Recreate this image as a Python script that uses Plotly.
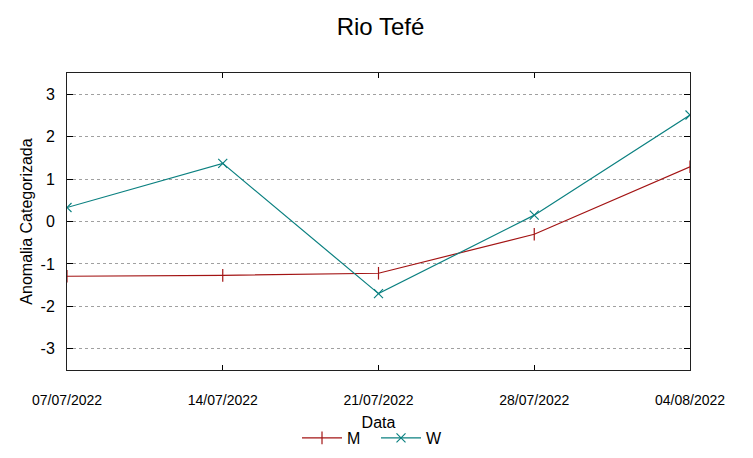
import plotly.graph_objects as go

dates = ["2022-07-07", "2022-07-14", "2022-07-21", "2022-07-28", "2022-08-04"]
tick_labels = ["07/07/2022", "14/07/2022", "21/07/2022", "28/07/2022", "04/08/2022"]
m_values = [-1.29, -1.27, -1.22, -0.30, 1.29]
w_values = [0.33, 1.37, -1.70, 0.15, 2.51]
y_ticks = [-3, -2, -1, 0, 1, 2, 3]
y_tick_labels = ["-3", "-2", "-1", "0", "1", "2", "3"]

fig = go.Figure()
fig.add_trace(go.Scatter(
    x=dates, y=m_values, name="M", mode="lines+markers",
    line=dict(color="#a31414", width=1.2),
    marker=dict(symbol="line-ns-open", size=9, color="#a31414", line=dict(width=1.2, color="#a31414")),
))
fig.add_trace(go.Scatter(
    x=dates, y=w_values, name="W", mode="lines+markers",
    line=dict(color="#0b8080", width=1.2),
    marker=dict(symbol="x-thin-open", size=9, color="#0b8080", line=dict(width=1.2, color="#0b8080")),
))

# the page body adds an 8px offset, so the figure is sized/offset to compensate
fig.update_layout(
    width=745, height=450,
    paper_bgcolor="white", plot_bgcolor="white",
    margin=dict(l=59, r=63, t=65, b=88, autoexpand=False),
    font=dict(family="Liberation Sans, Arial, sans-serif", color="black"),
    title=dict(text="Rio Tefé", x=0.5, xanchor="center", y=0.958, yanchor="middle",
               font=dict(size=24, color="black"), automargin=False),
    showlegend=True,
    legend=dict(orientation="h", x=0.496, xanchor="center", y=-0.229, yanchor="middle",
                font=dict(size=16), bgcolor="rgba(0,0,0,0)", itemwidth=40,
                entrywidth=24),
)
fig.update_xaxes(
    type="date",
    range=[dates[0], dates[-1]],
    tickvals=dates, ticktext=tick_labels,
    tickfont=dict(size=14),
    ticks="inside", ticklen=5, tickcolor="black",
    ticklabelstandoff=17,
    showline=True, linecolor="#202020", linewidth=1, mirror="ticks",
    showgrid=False, zeroline=False, automargin=False,
    title=dict(text="Data", font=dict(size=16), standoff=10),
)
fig.update_yaxes(
    range=[-3.5, 3.5],
    tickvals=y_ticks, ticktext=y_tick_labels,
    tickfont=dict(size=16),
    ticks="inside", ticklen=6, tickcolor="black",
    ticklabelstandoff=8,
    showline=True, linecolor="#202020", linewidth=1, mirror="ticks",
    showgrid=True, gridcolor="#a0a0a0", griddash="dot", gridwidth=1,
    zeroline=False, automargin=False,
    title=dict(text="Anomalia Categorizada", font=dict(size=16), standoff=3),
)

fig.write_html("out.html")
